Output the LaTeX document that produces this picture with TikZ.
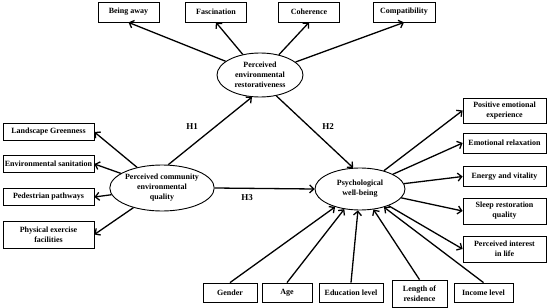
\documentclass[tikz,border=0pt]{standalone}
\usepackage{fontspec}
\setmainfont{Liberation Serif}
\usetikzlibrary{arrows.meta, shapes.geometric}

\begin{document}
\begin{tikzpicture}[x=1pt, y=-1pt,
  font=\bfseries\fontsize{8}{10}\selectfont,
  box/.style={draw, line width=0.8pt, align=center, inner sep=1pt, minimum height=20pt},
  latent/.style={draw, ellipse, line width=0.9pt, align=center, inner sep=0pt},
  link/.style={-{Straight Barb[length=4pt, width=8pt]}, line width=1.3pt},
  hyp/.style={font=\bfseries\fontsize{9}{10}\selectfont}]
  \useasboundingbox (0,0) rectangle (550,308);

  \node[latent, minimum width=86pt, minimum height=44pt] (restor) at (260,75) {Perceived\\environmental\\restorativeness};
  \node[latent, minimum width=93pt, minimum height=46pt] (commun) at (162,188) {Perceived community\\environmental\\quality};
  \node[latent, minimum width=90pt, minimum height=42pt] (wellb) at (360,189) {Psychological\\well-being};

  \node[box, minimum width=61pt] (away) at (128.5,12) {Being away};
  \node[box, minimum width=61pt] (fasc) at (216,12) {Fascination};
  \node[box, minimum width=61pt] (coher) at (309,12) {Coherence};
  \node[box, minimum width=62pt] (compat) at (404,12) {Compatibility};

  \node[box, minimum width=91pt, minimum height=17pt] (green) at (48.5,132) {Landscape Greenness};
  \node[box, minimum width=91pt, minimum height=17pt] (sanit) at (48.5,164) {Environmental sanitation};
  \node[box, minimum width=91pt, minimum height=17pt] (pedes) at (48.5,197) {Pedestrian pathways};
  \node[box, minimum width=91pt, minimum height=27pt] (exerc) at (48.5,234.5) {Physical exercise\\facilities};

  \node[box, minimum width=83pt, minimum height=25pt] (posit) at (504.5,110.5) {Positive emotional\\experience};
  \node[box, minimum width=83pt] (relax) at (504.5,143) {Emotional relaxation};
  \node[box, minimum width=83pt] (energ) at (504.5,176.5) {Energy and vitality};
  \node[box, minimum width=83pt, minimum height=26pt] (sleep) at (504.5,211) {Sleep restoration\\quality};
  \node[box, minimum width=83pt, minimum height=26pt] (inter) at (504.5,249) {Perceived interest\\in life};

  \node[box, minimum width=54pt, minimum height=19pt] (gender) at (230,292.5) {Gender};
  \node[box, minimum width=50pt, minimum height=19pt] (age) at (287,292.5) {Age};
  \node[box, minimum width=64pt, minimum height=19pt] (educ) at (351,292.5) {Education level};
  \node[box, minimum width=55pt, minimum height=27pt] (resid) at (419.5,293.5) {Length of\\residence};
  \node[box, minimum width=59pt, minimum height=19pt] (income) at (483.5,292.5) {Income level};

  \draw[link] (restor) -- (away.south);
  \draw[link] (restor) -- (fasc.south);
  \draw[link] (restor) -- (coher.south);
  \draw[link] (restor) -- (compat.south);

  \draw[link] (commun) -- (green.east);
  \draw[link] (commun) -- (sanit.east);
  \draw[link] (commun) -- (pedes.east);
  \draw[link] (commun) -- (exerc.east);

  \draw[link] (wellb) -- (posit.west);
  \draw[link] (wellb) -- (relax.west);
  \draw[link] (wellb) -- (energ.west);
  \draw[link] (wellb) -- (sleep.west);
  \draw[link] (wellb) -- (inter.west);

  \draw[link] (gender.north) -- (wellb);
  \draw[link] (age.north) -- (wellb);
  \draw[link] (educ.north) -- (wellb);
  \draw[link] (resid.north) -- (wellb);
  \draw[link] (income.north) -- (wellb);

  \draw[link] (commun.75) -- (restor.250);
  \draw[link] (restor.308) -- (wellb.108);
  \draw[link] (commun.east) -- (wellb.west);

  \node[hyp] (h1) at (192,127) {H1};
  \node[hyp] (h2) at (328,127) {H2};
  \node[hyp] (h3) at (247,198) {H3};
\end{tikzpicture}
\end{document}
